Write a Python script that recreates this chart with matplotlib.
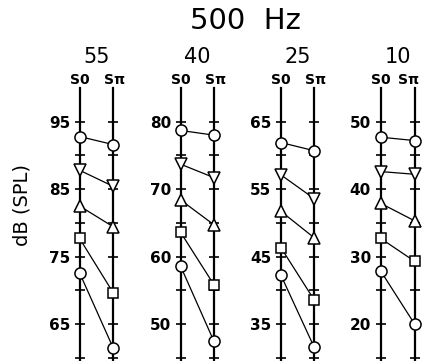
import matplotlib.pyplot as plt
from matplotlib.ticker import MultipleLocator

# masker level for each panel and the top labelled tick on its scale
levels = ["55", "40", "25", "10"]
top_ticks = [95, 80, 65, 50]
conditions = ["S0", "Sπ"]

# thresholds (dB SPL) as [S0, Sπ] pairs, one pair per panel
circle_hi = [[92.8, 91.6], [78.7, 78.0], [61.9, 60.7], [47.7, 47.2]]
tri_down = [[87.8, 85.4], [73.7, 71.7], [57.1, 53.6], [42.6, 42.2]]
tri_up = [[82.5, 79.4], [68.4, 64.7], [51.7, 47.8], [37.9, 35.3]]
square = [[77.7, 69.6], [63.6, 55.8], [46.3, 38.6], [32.7, 29.3]]
circle_lo = [[72.6, 61.4], [58.6, 47.4], [42.2, 31.6], [27.9, 20.0]]

series = [
    (circle_hi, "o", 8),
    (tri_down, "v", 8.5),
    (tri_up, "^", 8.5),
    (square, "s", 7),
    (circle_lo, "o", 8),
]

W, H = 422, 361
fig = plt.figure(figsize=(W / 100, H / 100), dpi=100)

x_s0 = [79.5, 180.5, 281.0, 380.5]
x_spi = [113.3, 214.0, 314.0, 414.5]
line_top = 88.3  # pixel row where the vertical scales start

for i in range(4):
    ax = fig.add_axes([x_s0[i] / W, 0, (x_spi[i] - x_s0[i]) / W, (H - line_top) / H])
    top = top_ticks[i]
    ax.set_xlim(0, 1)
    ax.set_ylim(top - 35.5, top + 4.95)

    for data, mk, ms in series:
        ax.plot([0, 1], data[i], color="black", lw=0.9, marker=mk, ms=ms,
                mfc="white", mec="black", mew=1.1, clip_on=False, zorder=5)

    for side in ["top", "bottom"]:
        ax.spines[side].set_visible(False)
    for side in ["left", "right"]:
        ax.spines[side].set_linewidth(1.6)
    ax.set_xticks([])
    ax.yaxis.set_major_locator(MultipleLocator(10))
    ax.yaxis.set_minor_locator(MultipleLocator(5))
    ax.set_yticks([top - 30, top - 20, top - 10, top])
    ax.yaxis.set_ticks_position("both")
    ax.tick_params(axis="y", which="both", direction="inout", length=7, width=1.2,
                   right=True, labelright=False, pad=3.3, labelsize=11)
    for lab in ax.get_yticklabels():
        lab.set_fontweight("bold")
    ax.patch.set_visible(False)

    xc = (x_s0[i] + x_spi[i]) / 2
    fig.text(xc / W, 1 - 57 / H, levels[i], ha="center", va="center", fontsize=15)
    fig.text(x_s0[i] / W, 1 - 80 / H, conditions[0], ha="center", va="center",
             fontsize=10, fontweight="bold")
    # keep the last Sπ label inside the right edge
    fig.text(min(x_spi[i] + 1.5, 409) / W, 1 - 80 / H, conditions[1], ha="center",
             va="center", fontsize=10, fontweight="bold")

fig.text(245.5 / W, 1 - 21 / H, "500  Hz", ha="center", va="center", fontsize=21)
fig.text(22 / W, 1 - 205 / H, "dB (SPL)", ha="center", va="center", rotation=90,
         fontsize=14)

fig.savefig("out.png", dpi=100)
